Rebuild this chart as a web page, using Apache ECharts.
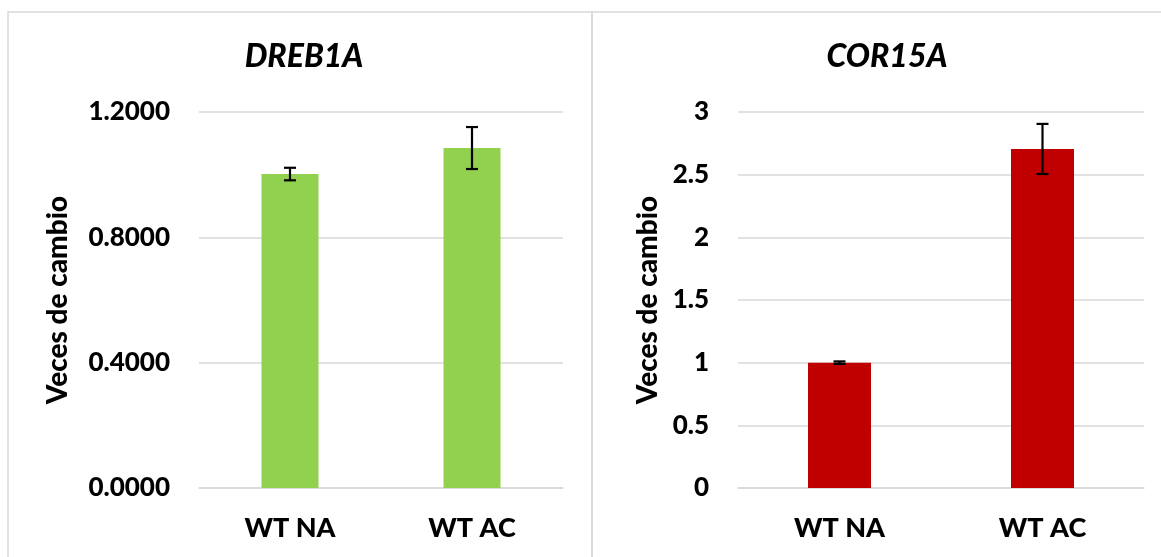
<!DOCTYPE html>
<html>
<head>
<meta charset="utf-8">
<script src="https://cdn.jsdelivr.net/npm/echarts@6/dist/echarts.min.js"></script>
<style>
  html, body { margin: 0; padding: 0; background: #fff; }
  #chart { width: 1161px; height: 557px; }
</style>
</head>
<body>
<div id="chart"></div>
<script>
// Fold-change of two cold-response genes, wild type untreated (NA) vs acclimated (AC)
const categories = ['WT NA', 'WT AC'];

const dreb1aValues = [1.002, 1.085];
const dreb1aErrors = [0.020, 0.067];
const dreb1aTicks = ['0.0000', '0.4000', '0.8000', '1.2000'];

const cor15aValues = [1.0, 2.705];
const cor15aErrors = [0.01, 0.20];
const cor15aTicks = ['0', '0.5', '1', '1.5', '2', '2.5', '3'];

const FONT = 'Lato, "Open Sans", sans-serif';
const WEIGHT = 900;
const GRID_COLOR = '#D9D9D9';

function errorSeries(gridIdx, values, errors) {
  return {
    type: 'custom',
    xAxisIndex: gridIdx,
    yAxisIndex: gridIdx,
    z: 10,
    data: values.map((v, i) => [i, v - errors[i], v + errors[i]]),
    renderItem: function (params, api) {
      const lo = api.coord([api.value(0), api.value(1)]);
      const hi = api.coord([api.value(0), api.value(2)]);
      const half = 6;
      const style = { stroke: '#000', lineWidth: 2.2 };
      return {
        type: 'group',
        children: [
          { type: 'line', shape: { x1: hi[0], y1: hi[1], x2: lo[0], y2: lo[1] }, style },
          { type: 'line', shape: { x1: hi[0] - half, y1: hi[1], x2: hi[0] + half, y2: hi[1] }, style },
          { type: 'line', shape: { x1: lo[0] - half, y1: lo[1], x2: lo[0] + half, y2: lo[1] }, style }
        ]
      };
    }
  };
}

function yAxis(gridIdx, ticks, interval) {
  return {
    type: 'value',
    gridIndex: gridIdx,
    min: 0,
    max: Number(ticks[ticks.length - 1]),
    interval: interval,
    name: 'Veces de cambio',
    nameLocation: 'middle',
    nameRotate: 90,
    nameGap: gridIdx === 0 ? 127 : 76,
    nameTextStyle: { fontFamily: FONT, fontWeight: WEIGHT, fontSize: 28, color: '#000' },
    axisLine: { show: false },
    axisTick: { show: false },
    axisLabel: {
      margin: 29,
      fontFamily: FONT, fontWeight: WEIGHT, fontSize: 26, color: '#000',
      formatter: function (v) {
        const idx = Math.round(v / interval);
        return ticks[idx];
      }
    },
    splitLine: { lineStyle: { color: GRID_COLOR, width: 1.5 } }
  };
}

function xAxis(gridIdx) {
  return {
    type: 'category',
    gridIndex: gridIdx,
    data: categories,
    axisLine: { lineStyle: { color: GRID_COLOR, width: 1.5 } },
    axisTick: { show: false },
    axisLabel: { margin: 27, fontFamily: FONT, fontWeight: WEIGHT, fontSize: 27, color: '#000' }
  };
}

const titleStyle = { fontFamily: FONT, fontWeight: WEIGHT, fontStyle: 'italic', fontSize: 32, color: '#000' };

const chart = echarts.init(document.getElementById('chart'), null, { renderer: 'canvas' });
chart.setOption({
  animation: false,
  backgroundColor: '#fff',
  graphic: [
    { type: 'rect', shape: { x: 8, y: 12, width: 584, height: 560 }, style: { fill: 'none', stroke: GRID_COLOR, lineWidth: 1.5 }, silent: true },
    { type: 'rect', shape: { x: 592, y: 12, width: 600, height: 560 }, style: { fill: 'none', stroke: GRID_COLOR, lineWidth: 1.5 }, silent: true }
  ],
  title: [
    { text: 'DREB1A', left: 299, top: 36, textAlign: 'center', textStyle: titleStyle },
    { text: 'COR15A', left: 882, top: 36, textAlign: 'center', textStyle: titleStyle }
  ],
  grid: [
    { left: 199, top: 112, width: 364, height: 376 },
    { left: 738, top: 112, width: 406, height: 376 }
  ],
  xAxis: [xAxis(0), xAxis(1)],
  yAxis: [yAxis(0, dreb1aTicks, 0.4), yAxis(1, cor15aTicks, 0.5)],
  series: [
    { type: 'bar', xAxisIndex: 0, yAxisIndex: 0, data: dreb1aValues, barWidth: 57,
      itemStyle: { color: '#92D050' } },
    errorSeries(0, dreb1aValues, dreb1aErrors),
    { type: 'bar', xAxisIndex: 1, yAxisIndex: 1, data: cor15aValues, barWidth: 63,
      itemStyle: { color: '#C00000' } },
    errorSeries(1, cor15aValues, cor15aErrors)
  ]
});
</script>
</body>
</html>
